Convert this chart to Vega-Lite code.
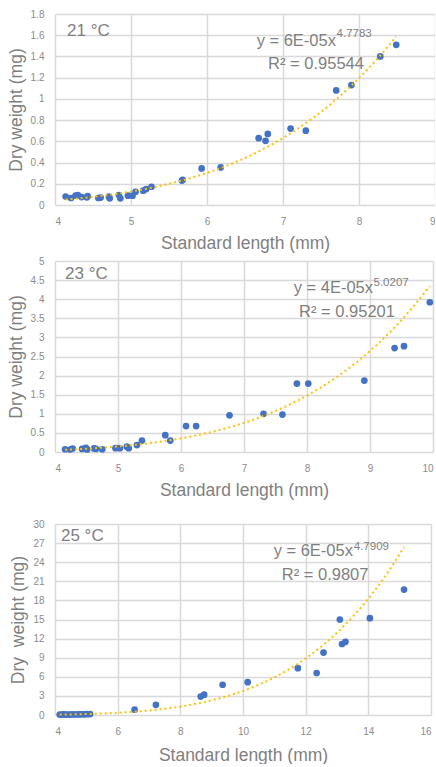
{
  "$schema": "https://vega.github.io/schema/vega-lite/v6.json",
  "padding": {"left": 7, "top": 9, "right": 0, "bottom": 0},
  "config": {
    "font": "Liberation Sans",
    "view": {"stroke": null},
    "axis": {"grid": true, "gridColor": "#d9d9d9", "gridWidth": 1.5, "domain": false, "ticks": false, "labelColor": "#8c8c8c", "labelFontSize": 10, "titleColor": "#7f7f7f", "titleFontSize": 17.5, "titleFontWeight": "normal", "format": "~f"},
    "axisX": {"labelPadding": 11, "titlePadding": 8},
    "axisY": {"labelPadding": 11, "titlePadding": 5},
    "concat": {"spacing": 4}
  },
  "datasets": {
    "t21": [
      {"sl": 4.14, "dw": 0.08}, {"sl": 4.21, "dw": 0.066}, {"sl": 4.27, "dw": 0.088}, {"sl": 4.30, "dw": 0.094},
      {"sl": 4.35, "dw": 0.075}, {"sl": 4.42, "dw": 0.072}, {"sl": 4.43, "dw": 0.085}, {"sl": 4.57, "dw": 0.066},
      {"sl": 4.60, "dw": 0.07}, {"sl": 4.71, "dw": 0.078}, {"sl": 4.72, "dw": 0.063}, {"sl": 4.84, "dw": 0.094},
      {"sl": 4.86, "dw": 0.063}, {"sl": 4.96, "dw": 0.088}, {"sl": 5.02, "dw": 0.088}, {"sl": 5.06, "dw": 0.125},
      {"sl": 5.16, "dw": 0.135}, {"sl": 5.20, "dw": 0.15}, {"sl": 5.27, "dw": 0.172}, {"sl": 5.67, "dw": 0.23},
      {"sl": 5.68, "dw": 0.238}, {"sl": 5.93, "dw": 0.345}, {"sl": 6.18, "dw": 0.354}, {"sl": 6.68, "dw": 0.63},
      {"sl": 6.77, "dw": 0.605}, {"sl": 6.80, "dw": 0.67}, {"sl": 7.10, "dw": 0.72}, {"sl": 7.30, "dw": 0.70},
      {"sl": 7.70, "dw": 1.08}, {"sl": 7.90, "dw": 1.13}, {"sl": 8.28, "dw": 1.40}, {"sl": 8.49, "dw": 1.51}
    ],
    "t23": [
      {"sl": 4.16, "dw": 0.072}, {"sl": 4.24, "dw": 0.065}, {"sl": 4.28, "dw": 0.092}, {"sl": 4.43, "dw": 0.08},
      {"sl": 4.49, "dw": 0.106}, {"sl": 4.51, "dw": 0.068}, {"sl": 4.62, "dw": 0.093}, {"sl": 4.65, "dw": 0.08},
      {"sl": 4.75, "dw": 0.07}, {"sl": 4.96, "dw": 0.1}, {"sl": 5.03, "dw": 0.1}, {"sl": 5.14, "dw": 0.14},
      {"sl": 5.17, "dw": 0.1}, {"sl": 5.30, "dw": 0.18}, {"sl": 5.38, "dw": 0.30}, {"sl": 5.75, "dw": 0.44},
      {"sl": 5.83, "dw": 0.30}, {"sl": 6.08, "dw": 0.68}, {"sl": 6.24, "dw": 0.68}, {"sl": 6.77, "dw": 0.96},
      {"sl": 7.31, "dw": 1.0}, {"sl": 7.61, "dw": 0.98}, {"sl": 7.84, "dw": 1.79}, {"sl": 8.02, "dw": 1.79},
      {"sl": 8.91, "dw": 1.87}, {"sl": 9.39, "dw": 2.72}, {"sl": 9.54, "dw": 2.77}, {"sl": 9.95, "dw": 3.92}
    ],
    "t25": [
      {"sl": 4.15, "dw": 0.07}, {"sl": 4.22, "dw": 0.06}, {"sl": 4.28, "dw": 0.09}, {"sl": 4.33, "dw": 0.07},
      {"sl": 4.40, "dw": 0.08}, {"sl": 4.47, "dw": 0.07}, {"sl": 4.55, "dw": 0.09}, {"sl": 4.62, "dw": 0.08},
      {"sl": 4.70, "dw": 0.10}, {"sl": 4.78, "dw": 0.09}, {"sl": 4.85, "dw": 0.12}, {"sl": 4.93, "dw": 0.11},
      {"sl": 5.02, "dw": 0.13}, {"sl": 5.12, "dw": 0.14}, {"sl": 6.54, "dw": 0.83}, {"sl": 7.22, "dw": 1.6},
      {"sl": 8.65, "dw": 2.9}, {"sl": 8.76, "dw": 3.2}, {"sl": 9.35, "dw": 4.75}, {"sl": 10.15, "dw": 5.15},
      {"sl": 11.75, "dw": 7.35}, {"sl": 12.35, "dw": 6.6}, {"sl": 12.57, "dw": 9.8}, {"sl": 13.09, "dw": 15.0},
      {"sl": 13.16, "dw": 11.15}, {"sl": 13.27, "dw": 11.5}, {"sl": 14.05, "dw": 15.2}, {"sl": 15.14, "dw": 19.7}
    ]
  },
  "vconcat": [
    {
      "width": 380, "height": 191,
      "layer": [
        {"data": {"name": "t21"}, "mark": {"type": "point", "filled": true, "color": "#4472C4", "size": 45, "opacity": 1},
         "encoding": {
          "x": {"field": "sl", "type": "quantitative", "scale": {"domain": [4, 9], "nice": false}, "axis": {"values": [4, 5, 6, 7, 8, 9], "title": "Standard length (mm)"}},
          "y": {"field": "dw", "type": "quantitative", "scale": {"domain": [0, 1.8], "nice": false}, "axis": {"values": [0, 0.2, 0.4, 0.6, 0.8, 1, 1.2, 1.4, 1.6, 1.8], "title": "Dry weight (mg)"}}}},
        {"data": {"name": "t21"}, "mark": {"type": "line", "color": "#FFC000", "strokeWidth": 2, "strokeDash": [2, 3]}, "transform": [{"regression": "dw", "on": "sl", "method": "pow"}],
         "encoding": {
          "x": {"field": "sl", "type": "quantitative", "scale": {"domain": [4, 9], "nice": false}, "axis": {"values": [4, 5, 6, 7, 8, 9], "title": "Standard length (mm)"}},
          "y": {"field": "dw", "type": "quantitative", "scale": {"domain": [0, 1.8], "nice": false}, "axis": {"values": [0, 0.2, 0.4, 0.6, 0.8, 1, 1.2, 1.4, 1.6, 1.8], "title": "Dry weight (mg)"}}}},
        {"data": {"values": [{"label": "21 °C", "sz": "a", "al": "left"}, {"label": "y = 6E-05x", "sz": "b", "al": "right"}, {"label": "4.7783", "sz": "c", "al": "left"}, {"label": "R² = 0.95544", "sz": "b", "al": "center"}]},
         "layer": [
          {"transform": [{"filter": "datum.sz == 'a'"}], "mark": {"type": "text", "align": "left", "baseline": "alphabetic", "fontSize": 17, "color": "#7f7f7f"},
           "encoding": {"text": {"field": "label"},
            "x": {"datum": 4.158, "type": "quantitative", "scale": {"domain": [4, 9], "nice": false}, "axis": {"values": [4, 5, 6, 7, 8, 9], "title": "Standard length (mm)"}},
            "y": {"datum": 1.593, "type": "quantitative", "scale": {"domain": [0, 1.8], "nice": false}, "axis": {"values": [0, 0.2, 0.4, 0.6, 0.8, 1, 1.2, 1.4, 1.6, 1.8], "title": "Dry weight (mg)"}}}},
          {"transform": [{"filter": "datum.al == 'right'"}], "mark": {"type": "text", "align": "right", "baseline": "alphabetic", "fontSize": 16.5, "color": "#7f7f7f"},
           "encoding": {"text": {"field": "label"},
            "x": {"datum": 7.697, "type": "quantitative", "scale": {"domain": [4, 9], "nice": false}, "axis": {"values": [4, 5, 6, 7, 8, 9], "title": "Standard length (mm)"}},
            "y": {"datum": 1.499, "type": "quantitative", "scale": {"domain": [0, 1.8], "nice": false}, "axis": {"values": [0, 0.2, 0.4, 0.6, 0.8, 1, 1.2, 1.4, 1.6, 1.8], "title": "Dry weight (mg)"}}}},
          {"transform": [{"filter": "datum.sz == 'c'"}], "mark": {"type": "text", "align": "left", "baseline": "alphabetic", "fontSize": 11.5, "color": "#7f7f7f"},
           "encoding": {"text": {"field": "label"},
            "x": {"datum": 7.705, "type": "quantitative", "scale": {"domain": [4, 9], "nice": false}, "axis": {"values": [4, 5, 6, 7, 8, 9], "title": "Standard length (mm)"}},
            "y": {"datum": 1.58, "type": "quantitative", "scale": {"domain": [0, 1.8], "nice": false}, "axis": {"values": [0, 0.2, 0.4, 0.6, 0.8, 1, 1.2, 1.4, 1.6, 1.8], "title": "Dry weight (mg)"}}}},
          {"transform": [{"filter": "datum.al == 'center'"}], "mark": {"type": "text", "align": "center", "baseline": "alphabetic", "fontSize": 16.5, "color": "#7f7f7f"},
           "encoding": {"text": {"field": "label"},
            "x": {"datum": 7.434, "type": "quantitative", "scale": {"domain": [4, 9], "nice": false}, "axis": {"values": [4, 5, 6, 7, 8, 9], "title": "Standard length (mm)"}},
            "y": {"datum": 1.282, "type": "quantitative", "scale": {"domain": [0, 1.8], "nice": false}, "axis": {"values": [0, 0.2, 0.4, 0.6, 0.8, 1, 1.2, 1.4, 1.6, 1.8], "title": "Dry weight (mg)"}}}}
         ]}
      ]
    },
    {
      "width": 378, "height": 191,
      "layer": [
        {"data": {"name": "t23"}, "mark": {"type": "point", "filled": true, "color": "#4472C4", "size": 45, "opacity": 1},
         "encoding": {
          "x": {"field": "sl", "type": "quantitative", "scale": {"domain": [4, 10], "nice": false}, "axis": {"values": [4, 5, 6, 7, 8, 9, 10], "title": "Standard length (mm)"}},
          "y": {"field": "dw", "type": "quantitative", "scale": {"domain": [0, 5], "nice": false}, "axis": {"values": [0, 0.5, 1, 1.5, 2, 2.5, 3, 3.5, 4, 4.5, 5], "title": "Dry weight (mg)"}}}},
        {"data": {"name": "t23"}, "mark": {"type": "line", "color": "#FFC000", "strokeWidth": 2, "strokeDash": [2, 3]}, "transform": [{"regression": "dw", "on": "sl", "method": "pow"}],
         "encoding": {
          "x": {"field": "sl", "type": "quantitative", "scale": {"domain": [4, 10], "nice": false}, "axis": {"values": [4, 5, 6, 7, 8, 9, 10], "title": "Standard length (mm)"}},
          "y": {"field": "dw", "type": "quantitative", "scale": {"domain": [0, 5], "nice": false}, "axis": {"values": [0, 0.5, 1, 1.5, 2, 2.5, 3, 3.5, 4, 4.5, 5], "title": "Dry weight (mg)"}}}},
        {"data": {"values": [{"label": "23 °C", "sz": "a", "al": "left"}, {"label": "y = 4E-05x", "sz": "b", "al": "right"}, {"label": "5.0207", "sz": "c", "al": "left"}, {"label": "R² = 0.95201", "sz": "b", "al": "center"}]},
         "layer": [
          {"transform": [{"filter": "datum.sz == 'a'"}], "mark": {"type": "text", "align": "left", "baseline": "alphabetic", "fontSize": 17, "color": "#7f7f7f"},
           "encoding": {"text": {"field": "label"},
            "x": {"datum": 4.159, "type": "quantitative", "scale": {"domain": [4, 10], "nice": false}, "axis": {"values": [4, 5, 6, 7, 8, 9, 10], "title": "Standard length (mm)"}},
            "y": {"datum": 4.52, "type": "quantitative", "scale": {"domain": [0, 5], "nice": false}, "axis": {"values": [0, 0.5, 1, 1.5, 2, 2.5, 3, 3.5, 4, 4.5, 5], "title": "Dry weight (mg)"}}}},
          {"transform": [{"filter": "datum.al == 'right'"}], "mark": {"type": "text", "align": "right", "baseline": "alphabetic", "fontSize": 16.5, "color": "#7f7f7f"},
           "encoding": {"text": {"field": "label"},
            "x": {"datum": 9.048, "type": "quantitative", "scale": {"domain": [4, 10], "nice": false}, "axis": {"values": [4, 5, 6, 7, 8, 9, 10], "title": "Standard length (mm)"}},
            "y": {"datum": 4.154, "type": "quantitative", "scale": {"domain": [0, 5], "nice": false}, "axis": {"values": [0, 0.5, 1, 1.5, 2, 2.5, 3, 3.5, 4, 4.5, 5], "title": "Dry weight (mg)"}}}},
          {"transform": [{"filter": "datum.sz == 'c'"}], "mark": {"type": "text", "align": "left", "baseline": "alphabetic", "fontSize": 11.5, "color": "#7f7f7f"},
           "encoding": {"text": {"field": "label"},
            "x": {"datum": 9.056, "type": "quantitative", "scale": {"domain": [4, 10], "nice": false}, "axis": {"values": [4, 5, 6, 7, 8, 9, 10], "title": "Standard length (mm)"}},
            "y": {"datum": 4.346, "type": "quantitative", "scale": {"domain": [0, 5], "nice": false}, "axis": {"values": [0, 0.5, 1, 1.5, 2, 2.5, 3, 3.5, 4, 4.5, 5], "title": "Dry weight (mg)"}}}},
          {"transform": [{"filter": "datum.al == 'center'"}], "mark": {"type": "text", "align": "center", "baseline": "alphabetic", "fontSize": 16.5, "color": "#7f7f7f"},
           "encoding": {"text": {"field": "label"},
            "x": {"datum": 8.635, "type": "quantitative", "scale": {"domain": [4, 10], "nice": false}, "axis": {"values": [4, 5, 6, 7, 8, 9, 10], "title": "Standard length (mm)"}},
            "y": {"datum": 3.545, "type": "quantitative", "scale": {"domain": [0, 5], "nice": false}, "axis": {"values": [0, 0.5, 1, 1.5, 2, 2.5, 3, 3.5, 4, 4.5, 5], "title": "Dry weight (mg)"}}}}
         ]}
      ]
    },
    {
      "width": 376, "height": 191,
      "title": {"text": " ", "fontSize": 12, "offset": 3},
      "layer": [
        {"data": {"name": "t25"}, "mark": {"type": "point", "filled": true, "color": "#4472C4", "size": 45, "opacity": 1},
         "encoding": {
          "x": {"field": "sl", "type": "quantitative", "scale": {"domain": [4, 16], "nice": false}, "axis": {"values": [4, 6, 8, 10, 12, 14, 16], "title": "Standard length (mm)", "titlePadding": 10}},
          "y": {"field": "dw", "type": "quantitative", "scale": {"domain": [0, 30], "nice": false}, "axis": {"values": [0, 3, 6, 9, 12, 15, 18, 21, 24, 27, 30], "title": "Dry\u00a0 weight (mg)"}}}},
        {"data": {"name": "t25"}, "mark": {"type": "line", "color": "#FFC000", "strokeWidth": 2, "strokeDash": [2, 3]}, "transform": [{"regression": "dw", "on": "sl", "method": "pow"}],
         "encoding": {
          "x": {"field": "sl", "type": "quantitative", "scale": {"domain": [4, 16], "nice": false}, "axis": {"values": [4, 6, 8, 10, 12, 14, 16], "title": "Standard length (mm)", "titlePadding": 10}},
          "y": {"field": "dw", "type": "quantitative", "scale": {"domain": [0, 30], "nice": false}, "axis": {"values": [0, 3, 6, 9, 12, 15, 18, 21, 24, 27, 30], "title": "Dry\u00a0 weight (mg)"}}}},
        {"data": {"values": [{"label": "25 °C", "sz": "a", "al": "left"}, {"label": "y = 6E-05x", "sz": "b", "al": "right"}, {"label": "4.7909", "sz": "c", "al": "left"}, {"label": "R² = 0.9807", "sz": "b", "al": "center"}]},
         "layer": [
          {"transform": [{"filter": "datum.sz == 'a'"}], "mark": {"type": "text", "align": "left", "baseline": "alphabetic", "fontSize": 17, "color": "#7f7f7f"},
           "encoding": {"text": {"field": "label"},
            "x": {"datum": 4.19, "type": "quantitative", "scale": {"domain": [4, 16], "nice": false}, "axis": {"values": [4, 6, 8, 10, 12, 14, 16], "title": "Standard length (mm)", "titlePadding": 10}},
            "y": {"datum": 27.28, "type": "quantitative", "scale": {"domain": [0, 30], "nice": false}, "axis": {"values": [0, 3, 6, 9, 12, 15, 18, 21, 24, 27, 30], "title": "Dry\u00a0 weight (mg)"}}}},
          {"transform": [{"filter": "datum.al == 'right'"}], "mark": {"type": "text", "align": "right", "baseline": "alphabetic", "fontSize": 16.5, "color": "#7f7f7f"},
           "encoding": {"text": {"field": "label"},
            "x": {"datum": 13.51, "type": "quantitative", "scale": {"domain": [4, 16], "nice": false}, "axis": {"values": [4, 6, 8, 10, 12, 14, 16], "title": "Standard length (mm)", "titlePadding": 10}},
            "y": {"datum": 24.93, "type": "quantitative", "scale": {"domain": [0, 30], "nice": false}, "axis": {"values": [0, 3, 6, 9, 12, 15, 18, 21, 24, 27, 30], "title": "Dry\u00a0 weight (mg)"}}}},
          {"transform": [{"filter": "datum.sz == 'c'"}], "mark": {"type": "text", "align": "left", "baseline": "alphabetic", "fontSize": 11.5, "color": "#7f7f7f"},
           "encoding": {"text": {"field": "label"},
            "x": {"datum": 13.535, "type": "quantitative", "scale": {"domain": [4, 16], "nice": false}, "axis": {"values": [4, 6, 8, 10, 12, 14, 16], "title": "Standard length (mm)", "titlePadding": 10}},
            "y": {"datum": 25.98, "type": "quantitative", "scale": {"domain": [0, 30], "nice": false}, "axis": {"values": [0, 3, 6, 9, 12, 15, 18, 21, 24, 27, 30], "title": "Dry\u00a0 weight (mg)"}}}},
          {"transform": [{"filter": "datum.al == 'center'"}], "mark": {"type": "text", "align": "center", "baseline": "alphabetic", "fontSize": 16.5, "color": "#7f7f7f"},
           "encoding": {"text": {"field": "label"},
            "x": {"datum": 12.62, "type": "quantitative", "scale": {"domain": [4, 16], "nice": false}, "axis": {"values": [4, 6, 8, 10, 12, 14, 16], "title": "Standard length (mm)", "titlePadding": 10}},
            "y": {"datum": 21.28, "type": "quantitative", "scale": {"domain": [0, 30], "nice": false}, "axis": {"values": [0, 3, 6, 9, 12, 15, 18, 21, 24, 27, 30], "title": "Dry\u00a0 weight (mg)"}}}}
         ]}
      ]
    }
  ]
}
